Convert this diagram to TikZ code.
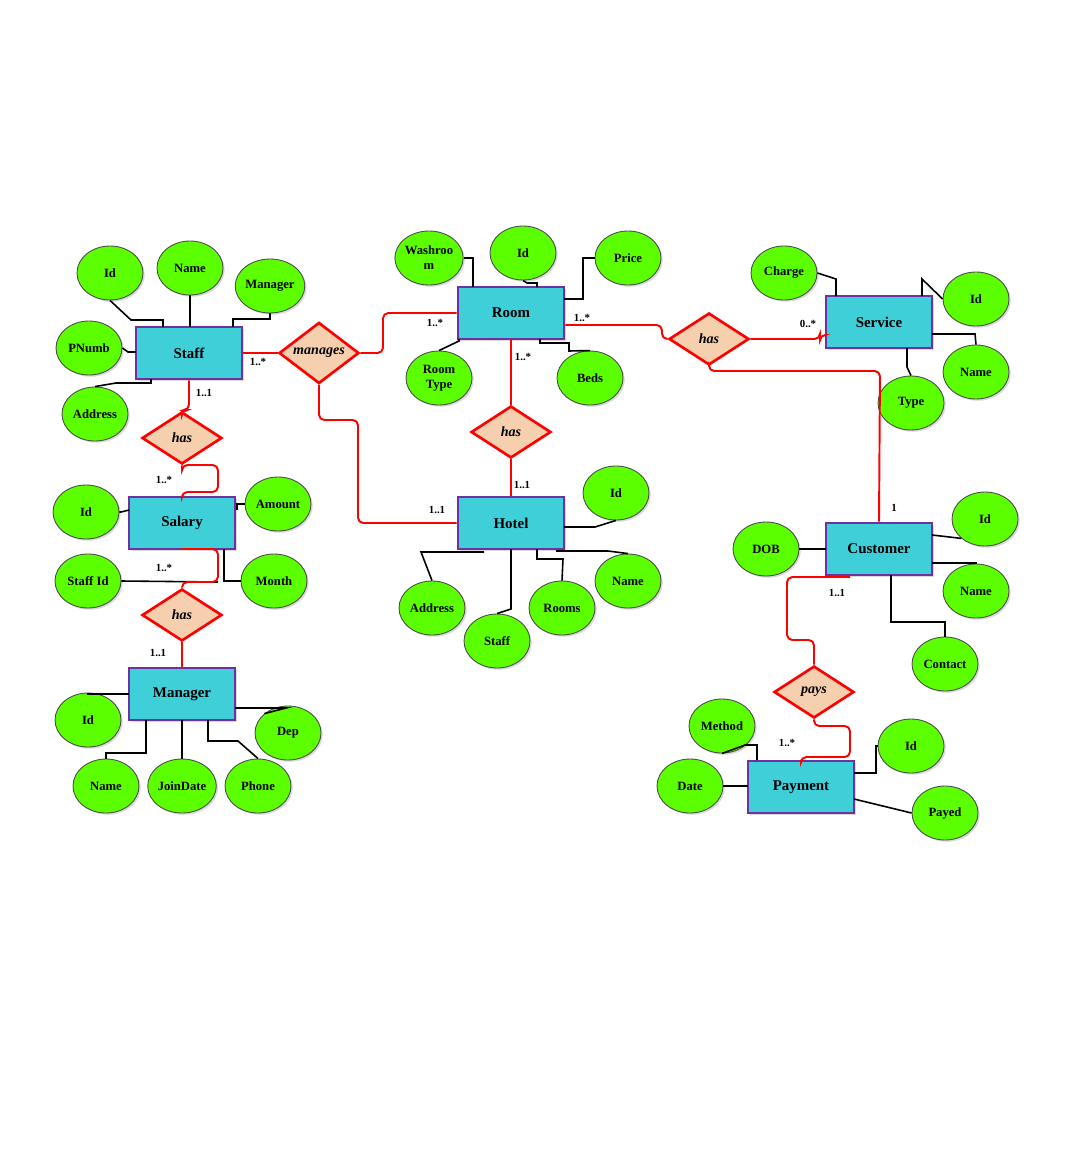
\documentclass[tikz,border=0pt]{standalone}
\usepackage{fontspec}
\setmainfont{Liberation Serif}
\usetikzlibrary{shapes.geometric,shadows}
\definecolor{ent}{HTML}{3ECFD8}
\definecolor{entb}{HTML}{7030A0}
\definecolor{att}{HTML}{5CFF00}
\definecolor{rel}{HTML}{F6CFAE}
\tikzset{
 ent/.style={rectangle,draw=entb,line width=1.6pt,fill=ent,minimum width=2.12cm,minimum height=1.04cm,font=\bfseries\fontsize{8.5}{9}\selectfont,drop shadow={opacity=0.3,shadow xshift=1pt,shadow yshift=-1pt}},
 att/.style={ellipse,draw=black!70,line width=0.5pt,fill=att,minimum width=1.32cm,minimum height=1.08cm,inner sep=0pt,align=center,font=\bfseries\fontsize{7.2}{8.5}\selectfont,drop shadow={opacity=0.3,shadow xshift=1pt,shadow yshift=-1pt}},
 rel/.style={diamond,draw=red,line width=1.5pt,fill=rel,minimum width=1.6cm,minimum height=1.04cm,inner sep=0pt,font=\bfseries\itshape\fontsize{8}{9}\selectfont},
 rl/.style={draw=red,line width=1.1pt,rounded corners=3pt},
 bl/.style={draw=black,line width=0.9pt},
 card/.style={font=\bfseries\fontsize{6.2}{7}\selectfont,inner sep=1pt}
}
\begin{document}
\begin{tikzpicture}[x=0.02cm,y=-0.02cm]
\useasboundingbox (0,0) rectangle (1080,1162);
% connectors drawn first (behind)
\coordinate (c0) at (0,0);
% entities
\node[ent] (Staff) at (189,353) {Staff};
\node[ent] (Room) at (511,313) {Room};
\node[ent] (Service) at (879,322) {Service};
\node[ent] (Salary) at (182,523) {Salary};
\node[ent] (Hotel) at (511,523) {Hotel};
\node[ent] (Customer) at (879,549) {Customer};
\node[ent] (Manager) at (182,694) {Manager};
\node[ent] (Payment) at (801,787) {Payment};
% relationships
\node[rel] (manages) at (319,353) {manages};
\node[rel] (has1) at (182,438) {has};
\node[rel] (hasRH) at (511,432) {has};
\node[rel] (hasRS) at (709,339) {has};
\node[rel] (has2) at (182,615) {has};
\node[rel] (pays) at (814,692) {pays};
% attributes
\node[att] (sId) at (110,273) {Id};
\node[att] (sName) at (190,268) {Name};
\node[att] (sMan) at (270,286) {Manager};
\node[att] (sPN) at (89,348) {PNumb};
\node[att] (sAdd) at (95,414) {Address};
\node[att] (rWash) at (429,258) {Washroo\\m};
\node[att] (rId) at (523,253) {Id};
\node[att] (rPrice) at (628,258) {Price};
\node[att] (rType) at (439,378) {Room\\Type};
\node[att] (rBeds) at (590,378) {Beds};
\node[att] (vCh) at (784,273) {Charge};
\node[att] (vId) at (976,299) {Id};
\node[att] (vName) at (976,372) {Name};
\node[att] (vType) at (911,403) {Type};
\node[att] (yId) at (86,512) {Id};
\node[att] (yAm) at (278,504) {Amount};
\node[att] (ySt) at (88,581) {Staff Id};
\node[att] (yMo) at (274,581) {Month};
\node[att] (hId) at (616,493) {Id};
\node[att] (hAdd) at (432,608) {Address};
\node[att] (hSt) at (497,641) {Staff};
\node[att] (hRo) at (562,608) {Rooms};
\node[att] (hName) at (628,581) {Name};
\node[att] (cDOB) at (766,549) {DOB};
\node[att] (cId) at (985,519) {Id};
\node[att] (cName) at (976,591) {Name};
\node[att] (cCon) at (945,664) {Contact};
\node[att] (mId) at (88,720) {Id};
\node[att] (mDep) at (288,733) {Dep};
\node[att] (mName) at (106,786) {Name};
\node[att] (mJD) at (182,786) {JoinDate};
\node[att] (mPh) at (258,786) {Phone};
\node[att] (pMe) at (722,726) {Method};
\node[att] (pDa) at (690,786) {Date};
\node[att] (pId) at (911,746) {Id};
\node[att] (pPa) at (945,813) {Payed};
% black attribute lines
\begin{scope}[on background layer/.style={}]
\end{scope}
\draw[bl] (sId.south) -- (131,320) -- (163,320) -- (163,327);
\draw[bl] (sName.south) -- (190,327);
\draw[bl] (sMan.south) -- (270,319) -- (233,319) -- (233,327);
\draw[bl] (sPN.east) -- (128,352) -- (136,352);
\draw[bl] (sAdd.north) -- (116,383) -- (151,383) -- (151,379);
\draw[bl] (rWash.east) -- (473,258) -- (473,287);
\draw[bl] (rId.south) -- (527,283) -- (537,283) -- (537,287);
\draw[bl] (rPrice.west) -- (583,258) -- (583,299) -- (564,299);
\draw[bl] (rType.north) -- (459,341) -- (459,339);
\draw[bl] (rBeds.north) -- (569,351) -- (569,343) -- (540,343) -- (540,339);
\draw[bl] (vCh.east) -- (836,279) -- (836,296);
\draw[bl] (vId.west) -- (922,279) -- (922,296);
\draw[bl] (vName.north) -- (975,334) -- (932,334);
\draw[bl] (vType.north) -- (907,367) -- (907,348);
\draw[bl] (yId.east) -- (121,512) -- (129,510);
\draw[bl] (yAm.west) -- (237,504) -- (237,510);
\draw[bl] (ySt.east) -- (218,582);
\draw[bl] (yMo.west) -- (224,581) -- (224,549);
\draw[bl] (hId.south) -- (595,527) -- (564,527);
\draw[bl] (hAdd.north) -- (421,552) -- (484,552);
\draw[bl] (hSt.north) -- (511,609) -- (511,549);
\draw[bl] (hRo.north) -- (563,559) -- (537,559) -- (537,549);
\draw[bl] (hName.north) -- (608,551) -- (556,551);
\draw[bl] (cDOB.east) -- (826,549);
\draw[bl] (cId.south west) -- (932,535);
\draw[bl] (cName.north) -- (976,563) -- (932,563);
\draw[bl] (cCon.north) -- (945,622) -- (891,622) -- (891,575);
\draw[bl] (mId.north) -- (88,694) -- (129,694);
\draw[bl] (mDep.north west) -- (286,708) -- (235,708);
\draw[bl] (mName.north) -- (106,753) -- (146,753) -- (146,720);
\draw[bl] (mJD.north) -- (182,720);
\draw[bl] (mPh.north) -- (238,741) -- (208,741) -- (208,720);
\draw[bl] (pMe.south) -- (745,745) -- (757,745) -- (757,760);
\draw[bl] (pDa.east) -- (748,786);
\draw[bl] (pId.west) -- (876,746) -- (876,773) -- (854,773);
\draw[bl] (pPa.west) -- (854,799);
% red relationship lines
\draw[rl] (Staff.east) -- (manages.west);
\draw[rl] (manages.east) -- (383,353) -- (383,313) -- (Room.west);
\draw[rl] (manages.south) -- (319,420) -- (358,420) -- (358,523) -- (Hotel.west);
\draw[rl] (Staff.south) -- (189,410) -- (182,410) -- (has1.north);
\draw[rl] (has1.south) -- (182,465) -- (218,465) -- (218,492) -- (182,492) -- (Salary.north);
\draw[rl] (182,549) -- (218,549) -- (218,582) -- (182,582) -- (has2.north);
\draw[rl] (has2.south) -- (Manager.north);
\draw[rl] (Room.south) -- (hasRH.north);
\draw[rl] (hasRH.south) -- (Hotel.north);
\draw[rl] (Room.east |- 0,325) -- (662,325) -- (662,339) -- (hasRS.west);
\draw[rl] (hasRS.east) -- (820,339) -- (820,335) -- (Service.west |- 0,335);
\draw[rl] (hasRS.south) -- (709,371) -- (880,371) -- (Customer.north);
\draw[rl] (850,577) -- (787,577) -- (787,640) -- (814,640) -- (pays.north);
\draw[rl] (pays.south) -- (814,726) -- (850,726) -- (850,757) -- (801,757) -- (Payment.north);
% cardinalities
\node[card] at (258,362) {1..*};
\node[card] at (435,323) {1..*};
\node[card] at (204,393) {1..1};
\node[card] at (164,480) {1..*};
\node[card] at (164,568) {1..*};
\node[card] at (158,653) {1..1};
\node[card] at (523,357) {1..*};
\node[card] at (522,485) {1..1};
\node[card] at (437,510) {1..1};
\node[card] at (582,318) {1..*};
\node[card] at (808,324) {0..*};
\node[card] at (894,508) {1};
\node[card] at (837,593) {1..1};
\node[card] at (787,743) {1..*};
\end{tikzpicture}
\end{document}
